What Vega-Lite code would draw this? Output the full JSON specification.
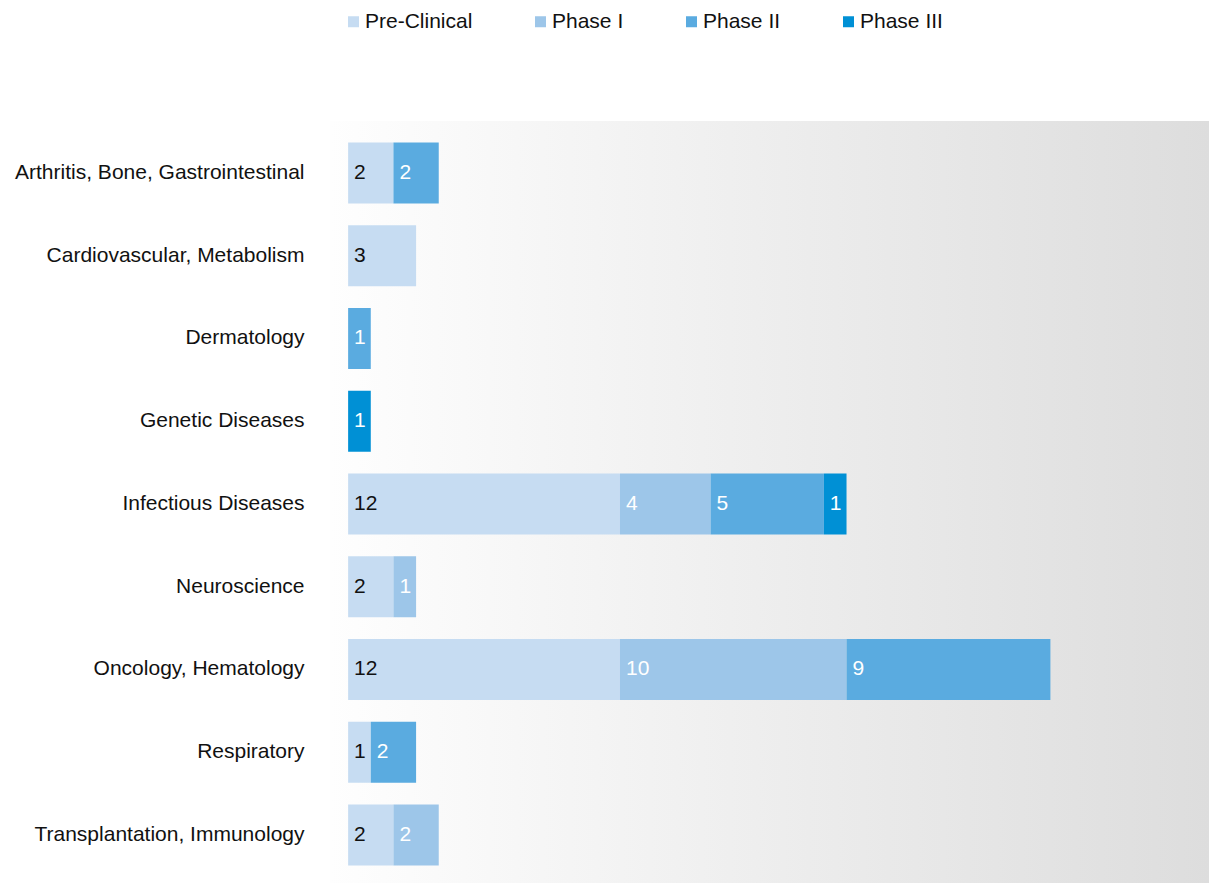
{
  "$schema": "https://vega.github.io/schema/vega-lite/v6.json",
  "width": 879,
  "height": 762,
  "autosize": {"type": "none"},
  "padding": {"left": 330, "top": 121, "right": 0, "bottom": 0},
  "background": "white",
  "config": {
    "font": "Liberation Sans",
    "view": {
      "stroke": null,
      "fill": {"gradient": "linear", "x1": 0, "y1": 0, "x2": 1, "y2": 0, "stops": [{"offset": 0, "color": "#fefefe"}, {"offset": 1, "color": "#dddddd"}]}
    }
  },
  "data": {
    "values": [
      {"area": "Arthritis, Bone, Gastrointestinal", "phase": "Pre-Clinical", "stage": 0, "count": 2},
      {"area": "Arthritis, Bone, Gastrointestinal", "phase": "Phase II", "stage": 2, "count": 2},
      {"area": "Cardiovascular, Metabolism", "phase": "Pre-Clinical", "stage": 0, "count": 3},
      {"area": "Dermatology", "phase": "Phase II", "stage": 2, "count": 1},
      {"area": "Genetic Diseases", "phase": "Phase III", "stage": 3, "count": 1},
      {"area": "Infectious Diseases", "phase": "Pre-Clinical", "stage": 0, "count": 12},
      {"area": "Infectious Diseases", "phase": "Phase I", "stage": 1, "count": 4},
      {"area": "Infectious Diseases", "phase": "Phase II", "stage": 2, "count": 5},
      {"area": "Infectious Diseases", "phase": "Phase III", "stage": 3, "count": 1},
      {"area": "Neuroscience", "phase": "Pre-Clinical", "stage": 0, "count": 2},
      {"area": "Neuroscience", "phase": "Phase I", "stage": 1, "count": 1},
      {"area": "Oncology, Hematology", "phase": "Pre-Clinical", "stage": 0, "count": 12},
      {"area": "Oncology, Hematology", "phase": "Phase I", "stage": 1, "count": 10},
      {"area": "Oncology, Hematology", "phase": "Phase II", "stage": 2, "count": 9},
      {"area": "Respiratory", "phase": "Pre-Clinical", "stage": 0, "count": 1},
      {"area": "Respiratory", "phase": "Phase II", "stage": 2, "count": 2},
      {"area": "Transplantation, Immunology", "phase": "Pre-Clinical", "stage": 0, "count": 2},
      {"area": "Transplantation, Immunology", "phase": "Phase I", "stage": 1, "count": 2}
    ]
  },
  "transform": [
    {"stack": "count", "groupby": ["area"], "sort": [{"field": "stage", "order": "ascending"}], "as": ["x0", "x1"]}
  ],
  "encoding": {
    "y": {
      "field": "area", "type": "nominal", "title": null,
      "scale": {"paddingInner": 0.263, "paddingOuter": 0.236, "align": 0.55},
      "axis": {"domain": false, "ticks": false, "labelPadding": 26, "labelFontSize": 21, "labelColor": "#111111", "labelLimit": 400}
    }
  },
  "layer": [
    {
      "mark": {"type": "bar"},
      "encoding": {
        "x": {"field": "x0", "type": "quantitative", "title": null, "scale": {"domain": [-0.8, 38], "nice": false, "zero": false}, "axis": null},
        "x2": {"field": "x1"},
        "color": {
          "field": "phase", "type": "nominal",
          "scale": {"domain": ["Pre-Clinical", "Phase I", "Phase II", "Phase III"], "range": ["#c6dcf2", "#9dc6e9", "#5aabe0", "#0090d5"]},
          "legend": {
            "title": null, "orient": "none", "direction": "horizontal", "legendX": 13, "legendY": -110, "padding": 0,
            "symbolType": "square", "symbolSize": 121, "symbolStrokeWidth": 0, "labelFontSize": 21, "labelColor": "#111111",
            "labelOffset": 1, "columnPadding": 57
          }
        }
      }
    },
    {
      "mark": {"type": "text", "align": "left", "baseline": "middle", "dx": 6, "fontSize": 21},
      "encoding": {
        "x": {"field": "x0", "type": "quantitative"},
        "text": {"field": "count", "type": "quantitative"},
        "color": {"condition": {"test": "datum.phase === 'Pre-Clinical'", "value": "#111111"}, "value": "white"}
      }
    }
  ]
}
